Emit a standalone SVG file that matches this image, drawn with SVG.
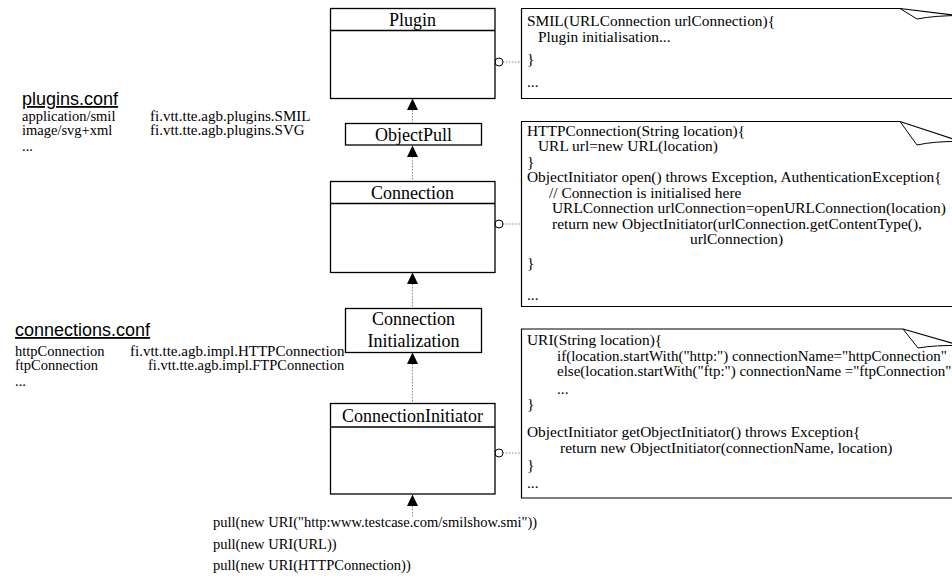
<svg xmlns="http://www.w3.org/2000/svg" width="952" height="583" viewBox="0 0 952 583">
<style>
.box{fill:#fff;stroke:#000;stroke-width:1.3}
.note{fill:#fff;stroke:#000;stroke-width:1.2}
.curl{fill:none;stroke:#000;stroke-width:1}
.dot{fill:none;stroke:#888;stroke-width:1;stroke-dasharray:1.5 1.5}
.lol{fill:#fff;stroke:#000;stroke-width:1}
.tri{fill:#000}
.t{font-family:"Liberation Serif","Times New Roman",serif;fill:#000}
.title{font-size:18px;text-anchor:middle}
.code{font-size:15.4px}
.code2{font-size:15px}
.cfg{font-size:14.5px}
.cls{font-size:15px}
.conf{font-family:"Liberation Sans",Arial,sans-serif;font-size:18px;text-decoration:underline;fill:#000}
.pull{font-size:14.5px}
</style>

<g id="connectors">
  <path class="dot" d="M412.5,110 V123.5"/>
  <polygon class="tri" points="412.5,98.5 407,110 418,110"/>
  <path class="dot" d="M412.5,157 V181.5"/>
  <polygon class="tri" points="412.5,145.5 407,157 418,157"/>
  <path class="dot" d="M412.5,284 V308.5"/>
  <polygon class="tri" points="412.5,272.5 407,284 418,284"/>
  <path class="dot" d="M412.5,364 V403.5"/>
  <polygon class="tri" points="412.5,352.5 407,364 418,364"/>
  <path class="dot" d="M412.5,506 V517"/>
  <polygon class="tri" points="412.5,494.5 407,506 418,506"/>
  <path class="dot" d="M503,62 H521.5"/>
  <circle class="lol" cx="499" cy="62" r="4"/>
  <path class="dot" d="M503,224 H521.5"/>
  <circle class="lol" cx="499" cy="224" r="4"/>
  <path class="dot" d="M503,453 H521.5"/>
  <circle class="lol" cx="499" cy="453" r="4"/>
</g>

<g id="plugin">
  <rect class="box" x="330.5" y="8.5" width="164.5" height="90"/>
  <line class="box" x1="330.5" y1="30.5" x2="495" y2="30.5"/>
  <text class="t title" x="412.5" y="26">Plugin</text>
</g>

<g id="objectpull">
  <rect class="box" x="345.5" y="123.5" width="136" height="21.5"/>
  <text class="t title" x="413.5" y="140.5">ObjectPull</text>
</g>

<g id="connection">
  <rect class="box" x="330.5" y="181.5" width="164.5" height="91"/>
  <line class="box" x1="330.5" y1="203.5" x2="495" y2="203.5"/>
  <text class="t title" x="412.5" y="199">Connection</text>
</g>

<g id="connection-initialization">
  <rect class="box" x="345.5" y="308.5" width="136" height="44"/>
  <text class="t title" x="413.5" y="325">Connection</text>
  <text class="t title" x="413.5" y="347">Initialization</text>
</g>

<g id="connection-initiator">
  <rect class="box" x="330.5" y="403.5" width="164.5" height="90.5"/>
  <line class="box" x1="330.5" y1="427" x2="495" y2="427"/>
  <text class="t title" x="412.5" y="421.5">ConnectionInitiator</text>
</g>

<g id="note-smil">
  <path class="note" d="M521.5,8.5 H900 L962,16 V98.5 H521.5 Z"/>
  <path class="curl" d="M900,8.5 L917,19 Q935,15.5 962,15.5"/>
  <text class="t code" x="527" y="26">SMIL(URLConnection urlConnection){</text>
  <text class="t code" x="538" y="42">Plugin initialisation...</text>
  <text class="t code" x="527" y="64">}</text>
  <text class="t code" x="527" y="87">...</text>
</g>

<g id="note-http">
  <path class="note" d="M521.5,121.5 H900 L962,142 V306.5 H521.5 Z"/>
  <path class="curl" d="M900,121.5 L917,145 Q935,141 962,141.5"/>
  <text class="t code" x="527" y="135.5">HTTPConnection(String location){</text>
  <text class="t code" x="538" y="151">URL url=new URL(location)</text>
  <text class="t code" x="527" y="167">}</text>
  <text class="t code" x="527" y="182">ObjectInitiator open() throws Exception, AuthenticationException{</text>
  <text class="t code" x="549" y="197.5">// Connection is initialised here</text>
  <text class="t code" x="552" y="213">URLConnection urlConnection=openURLConnection(location)</text>
  <text class="t code" x="552" y="228.5">return new ObjectInitiator(urlConnection.getContentType(),</text>
  <text class="t code" x="690" y="244">urlConnection)</text>
  <text class="t code" x="527" y="268">}</text>
  <text class="t code" x="527" y="300">...</text>
</g>

<g id="note-uri">
  <path class="note" d="M521.5,329 H903 L962,346 V498 H521.5 Z"/>
  <path class="curl" d="M903,329 L918,348 Q935,345 962,345.5"/>
  <text class="t code" x="527" y="345">URI(String location){</text>
  <text class="t code2" x="557" y="360.5">if(location.startWith("http:") connectionName="httpConnection"</text>
  <text class="t code2" x="557" y="376">else(location.startWith("ftp:") connectionName ="ftpConnection"</text>
  <text class="t code" x="557" y="394">...</text>
  <text class="t code" x="527" y="409">}</text>
  <text class="t code" x="527" y="437">ObjectInitiator getObjectInitiator() throws Exception{</text>
  <text class="t code" x="560" y="453">return new ObjectInitiator(connectionName, location)</text>
  <text class="t code" x="527" y="470">}</text>
  <text class="t code" x="527" y="488">...</text>
</g>

<g id="plugins-conf">
  <text class="conf" x="22" y="105">plugins.conf</text>
  <text class="t cfg" x="22" y="121">application/smil</text>
  <text class="t cls" x="150" y="121">fi.vtt.tte.agb.plugins.SMIL</text>
  <text class="t cfg" x="22" y="135">image/svg+xml</text>
  <text class="t cls" x="150" y="135">fi.vtt.tte.agb.plugins.SVG</text>
  <text class="t cfg" x="22" y="151">...</text>
</g>

<g id="connections-conf">
  <text class="conf" x="15" y="336">connections.conf</text>
  <text class="t cfg" x="15" y="356">httpConnection</text>
  <text class="t cls" x="130" y="356">fi.vtt.tte.agb.impl.HTTPConnection</text>
  <text class="t cfg" x="15" y="370">ftpConnection</text>
  <text class="t cfg" x="148" y="370">fi.vtt.tte.agb.impl.FTPConnection</text>
  <text class="t cfg" x="15" y="386">...</text>
</g>

<g id="pull-calls">
  <text class="t pull" x="213" y="527">pull(new URI("http:www.testcase.com/smilshow.smi"))</text>
  <text class="t pull" x="213" y="549">pull(new URI(URL))</text>
  <text class="t pull" x="213" y="570">pull(new URI(HTTPConnection))</text>
</g>
</svg>
